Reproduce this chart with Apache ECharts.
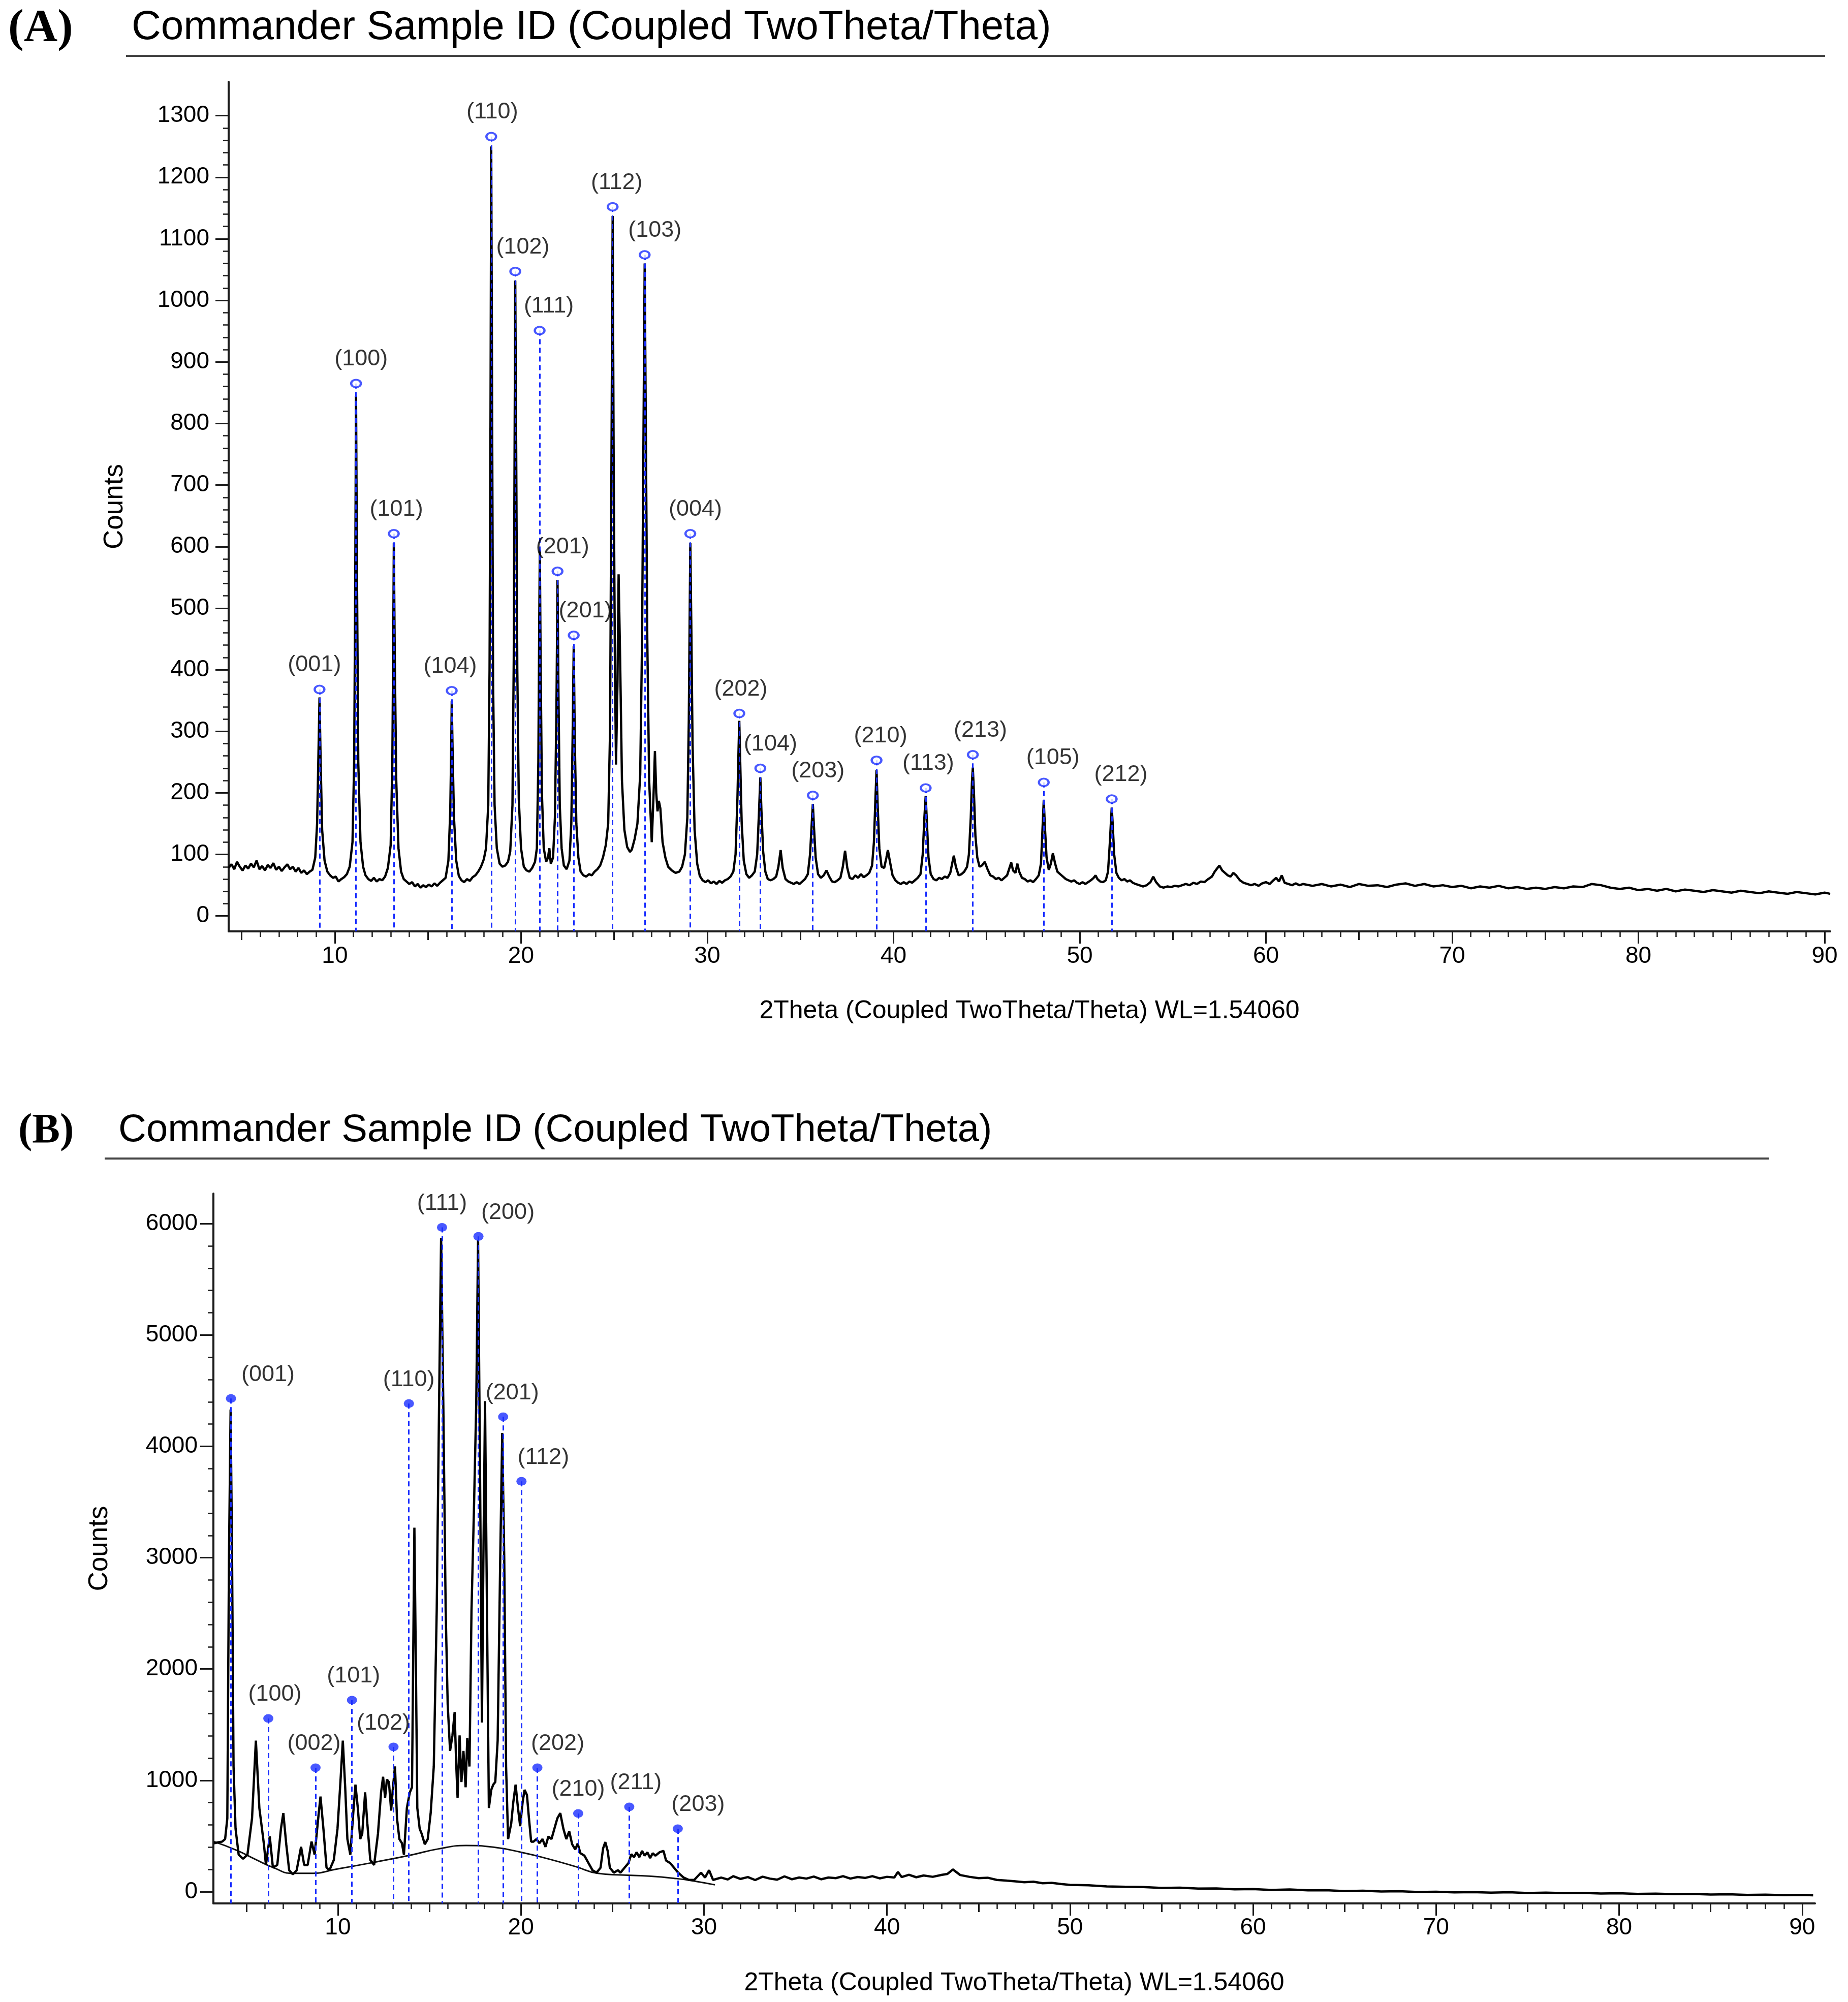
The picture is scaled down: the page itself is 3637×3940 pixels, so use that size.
<!DOCTYPE html>
<html>
<head>
<meta charset="utf-8">
<script src="https://cdn.jsdelivr.net/npm/echarts@6/dist/echarts.min.js"></script>
<style>
html,body{margin:0;padding:0;background:#ffffff;}
#chart{width:3637px;height:3940px;}
</style>
</head>
<body>
<div id="chart"></div>
<script>
// ---------------- DATA ----------------
const xTickLabels = [10, 20, 30, 40, 50, 60, 70, 80, 90];
const yTickLabelsA = [0, 100, 200, 300, 400, 500, 600, 700, 800, 900, 1000, 1100, 1200, 1300];
const yTickLabelsB = [0, 1000, 2000, 3000, 4000, 5000, 6000];

const xTitle = '2Theta (Coupled TwoTheta/Theta) WL=1.54060';
const panelTitle = 'Commander Sample ID (Coupled TwoTheta/Theta)';

// Panel A pattern [2theta, counts]
const patternA = [
[4.3,78],[4.45,84],[4.6,76],[4.75,88],[4.9,80],[5.05,74],[5.2,82],[5.35,77],[5.5,85],[5.65,79],[5.8,90],[5.95,76],[6.1,81],[6.25,74],[6.4,83],[6.55,78],[6.7,86],[6.85,75],[7.0,80],[7.15,73],[7.3,79],[7.45,84],[7.6,76],[7.75,80],[7.9,72],[8.05,78],[8.2,70],[8.35,74],[8.5,68],[8.65,72],
[8.8,75],[8.95,95],[9.05,150],[9.12,260],[9.18,355],[9.24,250],[9.32,140],[9.45,90],[9.6,72],
[9.75,66],[9.9,62],[10.05,64],[10.2,56],[10.35,60],[10.5,63],[10.65,68],
[10.8,80],[10.95,120],[11.04,250],[11.1,550],[11.14,845],[11.19,560],[11.26,250],[11.38,120],[11.52,80],
[11.65,66],[11.8,60],[11.95,57],[12.1,62],[12.25,56],[12.4,60],[12.55,58],[12.7,64],
[12.85,78],[13.0,115],[13.09,250],[13.14,450],[13.17,606],[13.22,420],[13.3,220],[13.42,110],[13.56,72],
[13.7,60],[13.85,56],[14.0,52],[14.15,55],[14.3,48],[14.45,52],[14.6,46],[14.75,50],[14.9,47],[15.05,51],[15.2,48],[15.35,53],[15.5,49],[15.65,54],[15.8,58],
[15.95,62],[16.1,90],[16.2,170],[16.25,270],[16.28,349],[16.33,260],[16.4,160],[16.52,90],[16.66,65],
[16.8,58],[16.95,55],[17.1,60],[17.25,57],[17.4,63],[17.55,66],[17.7,72],[17.85,80],[18.0,92],
[18.12,110],[18.24,180],[18.31,400],[18.36,800],[18.4,1250],[18.45,800],[18.5,380],[18.58,180],[18.7,110],[18.85,85],
[19.0,80],[19.15,82],[19.3,88],
[19.42,105],[19.54,180],[19.61,420],[19.66,800],[19.69,1032],[19.74,760],[19.8,400],[19.88,190],[20.0,110],[20.15,80],
[20.3,74],[20.45,72],[20.6,78],[20.75,88],
[20.85,110],[20.93,250],[20.98,480],[21.01,595],[21.05,420],[21.12,200],[21.22,110],[21.35,88],[21.45,95],[21.52,110],[21.6,85],
[21.72,95],[21.82,160],[21.9,330],[21.96,546],[22.01,360],[22.08,180],[22.18,110],[22.3,82],[22.45,76],
[22.6,90],[22.7,150],[22.77,290],[22.83,438],[22.89,280],[22.97,150],[23.08,95],[23.2,72],
[23.35,66],[23.5,64],[23.65,68],[23.8,66],[23.95,72],[24.1,76],[24.25,82],[24.4,95],[24.55,115],
[24.68,150],[24.78,300],[24.85,700],[24.92,1137],[24.98,700],[25.04,420],[25.1,246],[25.18,380],[25.24,555],[25.32,420],[25.42,220],[25.55,140],[25.7,112],[25.85,104],[25.95,108],[26.1,125],
[26.25,150],[26.4,230],[26.5,450],[26.58,800],[26.64,1060],[26.7,800],[26.78,450],[26.88,220],[27.02,120],[27.12,200],[27.19,268],[27.26,200],[27.33,170],[27.4,187],[27.48,175],[27.6,120],[27.75,95],[27.9,80],[28.1,74],[28.3,70],[28.5,72],[28.65,80],
[28.8,100],[28.93,160],[29.01,320],[29.06,500],[29.09,606],[29.14,480],[29.21,280],[29.32,140],[29.46,85],[29.6,65],
[29.75,58],[29.9,55],[30.05,58],[30.2,53],[30.35,56],[30.5,52],[30.65,57],[30.8,54],[30.95,58],[31.1,60],[31.25,64],
[31.4,72],[31.52,100],[31.62,190],[31.68,270],[31.72,317],[31.77,250],[31.85,150],[31.96,90],[32.1,68],[32.25,62],[32.4,66],
[32.55,72],[32.68,100],[32.78,170],[32.85,225],[32.91,170],[33.0,105],[33.12,72],[33.25,60],[33.4,58],[33.55,60],[33.7,64],
[33.82,80],[33.94,107],[34.05,78],[34.2,60],[34.35,56],[34.5,54],[34.65,52],[34.8,55],[34.95,52],[35.1,56],[35.25,60],
[35.4,68],[35.52,100],[35.61,150],[35.67,182],[35.73,145],[35.82,95],[35.95,68],[36.1,62],[36.25,66],[36.4,74],[36.55,64],[36.7,56],[36.85,55],[37.0,58],[37.15,62],
[37.28,80],[37.4,106],[37.52,78],[37.65,62],[37.8,60],[37.95,66],[38.1,62],[38.25,68],[38.4,63],[38.55,66],[38.7,70],
[38.85,82],[38.95,120],[39.03,190],[39.09,237],[39.15,180],[39.24,110],[39.36,80],[39.5,78],[39.62,95],[39.7,107],[39.8,90],[39.95,66],[40.1,58],[40.25,54],[40.4,52],[40.55,55],[40.7,52],[40.85,56],[41.0,54],[41.15,58],[41.3,62],
[41.45,68],[41.57,100],[41.66,160],[41.73,195],[41.79,155],[41.88,95],[42.0,68],[42.15,60],[42.3,58],[42.45,62],[42.6,60],[42.75,64],[42.9,62],[43.05,70],
[43.15,85],[43.24,98],[43.35,80],[43.5,66],[43.65,68],[43.8,72],[43.95,80],
[44.05,100],[44.15,160],[44.21,215],[44.26,241],[44.32,200],[44.4,130],[44.5,95],[44.62,80],[44.75,82],[44.9,88],[45.05,76],[45.2,66],[45.35,64],[45.5,60],[45.65,62],[45.8,58],[45.95,62],[46.1,66],[46.25,80],[46.32,87],[46.42,74],[46.55,70],[46.65,85],[46.75,72],[46.9,62],[47.05,60],[47.2,56],[47.35,58],[47.5,55],[47.65,60],[47.8,66],
[47.92,85],[48.0,140],[48.07,188],[48.13,145],[48.22,95],[48.34,75],[48.45,85],[48.56,102],[48.68,85],[48.8,72],[48.95,68],[49.1,64],[49.25,60],[49.4,58],[49.55,56],[49.7,58],[49.85,54],[50.0,52],[50.15,55],[50.3,52],[50.45,55],[50.6,58],[50.75,62],[50.85,66],[50.95,60],[51.1,56],[51.25,55],[51.4,58],
[51.52,72],[51.62,120],[51.68,155],[51.72,176],[51.77,150],[51.85,100],[51.97,70],[52.1,62],[52.25,58],[52.4,60],[52.55,56],[52.7,58],[52.85,54],[53.0,52],[53.2,50],[53.4,48],[53.6,50],[53.8,55],[53.95,64],[54.1,55],[54.3,48],[54.5,46],[54.7,48],[54.9,47],[55.1,49],[55.3,48],[55.5,50],[55.7,52],[55.9,50],[56.1,54],[56.3,52],[56.5,56],[56.7,55],[56.9,60],[57.1,64],[57.25,72],[57.4,78],[57.5,82],[57.65,74],[57.8,70],[57.95,66],[58.1,64],[58.25,70],[58.4,66],[58.6,58],[58.8,54],[59.0,52],[59.2,50],[59.4,52],[59.6,49],[59.8,53],[60.0,55],[60.2,52],[60.4,58],[60.55,62],[60.7,56],[60.85,66],[61.0,54],[61.2,52],[61.4,50],[61.6,53],[61.8,50],[62.0,52],
[62.5,49],[63.0,52],[63.5,48],[64.0,51],[64.5,47],[65.0,52],[65.5,49],[66.0,50],[66.5,47],[67.0,51],[67.5,53],[68.0,49],[68.5,52],[69.0,48],[69.5,50],[70.0,47],[70.5,49],[71.0,45],[71.5,48],[72.0,46],[72.5,49],[73.0,45],[73.5,47],[74.0,44],[74.5,46],[75.0,44],[75.5,47],[76.0,45],[76.5,48],[77.0,47],[77.5,52],[78.0,50],[78.5,46],[79.0,44],[79.5,46],[80.0,42],[80.5,44],[81.0,41],[81.5,44],[82.0,40],[82.5,43],[83.0,41],[83.5,39],[84.0,42],[84.5,40],[85.0,38],[85.5,41],[86.0,39],[86.5,37],[87.0,40],[87.5,38],[88.0,36],[88.5,39],[89.0,37],[89.5,35],[90.0,38],[90.3,36]
];

// Panel A indexed peaks
const peakLabelsA = ['(001)','(100)','(101)','(104)','(110)','(102)','(111)','(201)','(201)','(112)','(103)','(004)','(202)','(104)','(203)','(210)','(113)','(213)','(105)','(212)'];
const peakPosA    = [9.18, 11.14, 13.17, 16.28, 18.40, 19.69, 21.0, 21.96, 22.83, 24.92, 26.64, 29.09, 31.72, 32.85, 35.67, 39.09, 41.73, 44.26, 48.07, 51.72];
const peakMarkA   = [368, 865, 621, 366, 1266, 1047, 951, 560, 456, 1152, 1074, 621, 329, 240, 196, 253, 208, 262, 217, 190];

// Panel B pattern [2theta, counts]
const patternB = [
[3.24,436],[3.5,445],[3.68,450],[3.84,473],[3.96,659],[4.05,2986],[4.14,4330],[4.22,2986],[4.3,1125],[4.41,566],[4.58,333],[4.82,296],[5.06,333],[5.31,659],[5.52,1357],[5.71,752],[5.96,426],[6.07,240],[6.28,496],[6.45,217],[6.69,240],[6.89,566],[7.02,706],[7.18,426],[7.34,193],[7.54,156],[7.75,193],[7.99,403],[8.16,240],[8.35,240],[8.56,450],[8.73,333],[8.94,682],[9.05,855],[9.21,566],[9.38,217],[9.54,193],[9.78,286],[9.98,566],[10.14,985],[10.27,1357],[10.4,938],[10.52,473],[10.68,333],[10.84,706],[10.96,962],[11.09,752],[11.22,473],[11.33,520],[11.49,892],[11.61,613],[11.77,286],[11.98,240],[12.19,520],[12.36,892],[12.47,1032],[12.58,845],[12.68,1008],[12.79,985],[12.91,729],[13.01,938],[13.12,1125],[13.23,659],[13.36,473],[13.5,436],[13.61,333],[13.77,752],[13.93,892],[14.05,938],[14.18,3270],[14.26,2056],[14.34,752],[14.47,566],[14.58,520],[14.75,426],[14.91,473],[15.07,706],[15.24,1125],[15.4,2521],[15.53,4383],[15.64,5870],[15.76,4383],[15.89,2521],[16.0,1683],[16.13,1265],[16.26,1404],[16.38,1613],[16.46,1171],[16.54,845],[16.65,1404],[16.75,985],[16.86,1265],[16.98,938],[17.07,1381],[17.19,1125],[17.3,2521],[17.43,3405],[17.56,4383],[17.66,5850],[17.76,3918],[17.87,1520],[17.95,2986],[18.04,4406],[18.12,2986],[18.25,752],[18.38,915],[18.49,962],[18.6,985],[18.73,1357],[18.87,2986],[18.98,4120],[19.09,2986],[19.19,1125],[19.3,473],[19.47,613],[19.58,799],[19.71,962],[19.84,752],[19.96,589],[20.09,799],[20.2,915],[20.33,869],[20.44,659],[20.56,450],[20.69,450],[20.85,473],[21.01,436],[21.18,473],[21.34,403],[21.5,496],[21.67,473],[21.83,566],[21.99,659],[22.15,706],[22.32,566],[22.48,473],[22.64,543],[22.8,426],[22.97,380],[23.1,433],[23.25,346],[23.47,324],[23.69,258],[23.91,193],[24.13,171],[24.35,215],[24.49,389],[24.61,446],[24.74,367],[24.86,215],[25.08,171],[25.3,193],[25.44,171],[25.66,215],[25.88,258],[26.03,337],[26.18,311],[26.32,354],[26.47,311],[26.62,367],[26.76,324],[26.91,354],[27.06,302],[27.2,346],[27.35,324],[27.57,354],[27.79,367],[27.93,280],[28.15,258],[28.37,215],[28.59,171],[28.89,127],[29.18,106],[29.47,106],[29.84,171],[30.06,127],[30.28,193],[30.5,106],
[30.94,127],[31.3,110],[31.6,140],[32.0,115],[32.4,132],[32.8,105],[33.2,135],[33.6,118],[34.0,108],[34.4,138],[34.8,112],[35.2,128],[35.6,118],[36.0,136],[36.4,112],[36.8,128],[37.2,122],[37.6,140],[38.0,118],[38.4,132],[38.8,124],[39.2,140],[39.6,120],[40.0,134],[40.4,128],[40.6,178],[40.8,132],[41.2,152],[41.6,130],[42.0,146],[42.5,134],[43.0,152],[43.3,160],[43.6,200],[44.0,150],[44.5,134],[45.0,122],[45.5,126],[46.0,106],[46.5,100],[47.0,94],[47.5,86],[48.0,90],[48.5,76],[49.0,80],[49.5,70],[50.0,62],[51.0,58],[52.0,48],[53.0,44],[54.0,42],[55.0,34],[56.0,36],[57.0,28],[58.0,30],[59.0,22],[60.0,24],[61.0,16],[62.0,20],[63.0,12],[64.0,14],[65.0,6],[66.0,9],[67.0,2],[68.0,5],[69.0,-2],[70.0,0],[71.0,-6],[72.0,-3],[73.0,-8],[74.0,-5],[75.0,-11],[76.0,-8],[77.0,-13],[78.0,-10],[79.0,-16],[80.0,-14],[81.0,-19],[82.0,-17],[83.0,-22],[84.0,-20],[85.0,-25],[86.0,-23],[87.0,-28],[88.0,-26],[89.0,-31],[90.0,-29],[90.6,-32]
];

// Panel B fitted background curve
const backgroundB = [[3.24,450],[4.5,370],[5.5,290],[6.5,215],[7.5,165],[8.5,165],[10,205],[12,265],[14,330],[15.5,385],[17,415],[18.5,400],[20,355],[21.5,295],[23,225],[24.2,165],[25.5,150],[27,140],[28.5,118],[29.5,95],[30.6,62]];

// Panel B indexed peaks
const peakLabelsB = ['(001)','(100)','(002)','(101)','(102)','(110)','(111)','(200)','(201)','(112)','(202)','(210)','(211)','(203)'];
const peakPosB    = [4.16, 6.2, 8.78, 10.77, 13.04, 13.88, 15.69, 17.68, 19.03, 20.03, 20.9, 23.13, 25.92, 28.57];
const peakMarkB   = [4430, 1556, 1113, 1720, 1300, 4384, 5967, 5885, 4266, 3686, 1113, 703, 762, 566];

// ---------------- LAYOUT / STYLE ----------------
const labelShiftA = [-10, 10, 5, -3, 2, 15, 18, 10, 23, 8, 20, 10, 3, 20, 10, 8, 5, 15, 18, 18];
const labelShiftB = [73, 13, -3, 3, -20, 0, 0, 58, 18, 43, 40, 0, 13, 40];

const FONT = '"Liberation Sans", Arial, Helvetica, sans-serif';
const BLUE = '#1a2eff';
const INK = '#000000';
const AXIS = '#1a1a1a';
const A_MIN_X = 4.3, A_MAX_X = 90.3, A_MIN_Y = -25, A_MAX_Y = 1355;
const B_MIN_X = 3.2, B_MAX_X = 90.7, B_MIN_Y = -105, B_MAX_Y = 6270;

const midTicks = [];
const minorTicks = [];
for (let v = 5; v <= 90; v += 1) {
  if (v % 10 === 0) continue;
  if (v % 5 === 0) midTicks.push(v); else minorTicks.push(v);
}
function minorBetween(major, step) {
  const out = [];
  for (let i = 0; i < major.length - 1; i++) {
    for (let v = major[i] + step; v < major[i + 1] - 1e-9; v += step) out.push(Math.round(v));
  }
  return out;
}
const yMinorA = minorBetween(yTickLabelsA, 20);
const yMinorB = minorBetween(yTickLabelsB, 200);
const plain = function (v) { return String(v); };

function xAxesFor(grid, min, max, nameGap, labelMargin) {
  const base = {type: 'value', gridIndex: grid, position: 'bottom', min: min, max: max,
    splitLine: {show: false}, minorTick: {show: false}, minorSplitLine: {show: false}};
  return [
    Object.assign({}, base, {
      name: xTitle, nameLocation: 'middle', nameGap: nameGap,
      nameTextStyle: {fontSize: 50, fontFamily: FONT, color: INK},
      axisLine: {show: true, onZero: false, lineStyle: {color: AXIS, width: 4}},
      axisTick: {show: true, customValues: xTickLabels, length: 24, lineStyle: {color: AXIS, width: 3}},
      axisLabel: {show: true, customValues: xTickLabels, formatter: plain, margin: labelMargin, fontSize: 46, fontFamily: FONT, color: INK}
    }),
    Object.assign({}, base, {
      axisLine: {show: false, onZero: false},
      axisTick: {show: true, customValues: midTicks, length: 17, lineStyle: {color: AXIS, width: 3}},
      axisLabel: {show: false}
    }),
    Object.assign({}, base, {
      axisLine: {show: false, onZero: false},
      axisTick: {show: true, customValues: minorTicks, length: 11, lineStyle: {color: AXIS, width: 2.5}},
      axisLabel: {show: false}
    })
  ];
}
function yAxesFor(grid, min, max, major, minor, labelMargin) {
  const base = {type: 'value', gridIndex: grid, position: 'left', min: min, max: max,
    splitLine: {show: false}, minorTick: {show: false}, minorSplitLine: {show: false}};
  return [
    Object.assign({}, base, {
      name: 'Counts', nameLocation: 'middle', nameRotate: 90, nameGap: 197,
      nameTextStyle: {fontSize: 53, fontFamily: FONT, color: INK},
      axisLine: {show: true, onZero: false, lineStyle: {color: AXIS, width: 4}},
      axisTick: {show: true, customValues: major, length: 26, lineStyle: {color: AXIS, width: 3}},
      axisLabel: {show: true, customValues: major, formatter: plain, margin: labelMargin, fontSize: 46, fontFamily: FONT, color: INK}
    }),
    Object.assign({}, base, {
      axisLine: {show: false, onZero: false},
      axisTick: {show: true, customValues: minor, length: 11, lineStyle: {color: AXIS, width: 2.5}},
      axisLabel: {show: false}
    })
  ];
}

function peakSeries(xi, yi, labels, pos, marks, shifts, yMin, filled) {
  return {
    type: 'scatter', xAxisIndex: xi, yAxisIndex: yi, z: 10,
    symbol: 'circle', symbolSize: filled ? [20, 17] : [19, 15],
    itemStyle: filled ? {color: BLUE} : {color: '#ffffff', borderColor: BLUE, borderWidth: 4},
    label: {show: true, position: 'top', distance: 16, fontSize: 45, fontFamily: FONT, color: INK,
      formatter: function (p) { return p.name; }},
    emphasis: {disabled: true},
    data: pos.map(function (x, i) {
      return {name: labels[i], value: [x, marks[i]], label: {offset: [shifts[i], 0]}};
    }),
    markLine: {
      silent: true, symbol: ['none', 'none'], animation: false,
      label: {show: false},
      lineStyle: {color: BLUE, width: 3, type: [10, 7], opacity: 1},
      emphasis: {disabled: true},
      data: pos.map(function (x, i) { return [{coord: [x, marks[i]]}, {coord: [x, yMin]}]; })
    }
  };
}

const option = {
  backgroundColor: '#ffffff',
  animation: false,
  grid: [
    {left: 450, top: 161, width: 3152, height: 1672, containLabel: false},
    {left: 420, top: 2349, width: 3152, height: 1397, containLabel: false}
  ],
  xAxis: [].concat(
    xAxesFor(0, A_MIN_X, A_MAX_X, 132, 26),
    xAxesFor(1, B_MIN_X, B_MAX_X, 132, 25)
  ),
  yAxis: [].concat(
    yAxesFor(0, A_MIN_Y, A_MAX_Y, yTickLabelsA, yMinorA, 38),
    yAxesFor(1, B_MIN_Y, B_MAX_Y, yTickLabelsB, yMinorB, 31)
  ),
  graphic: [
    {type: 'text', x: 16, y: 57, style: {text: '(A)', font: 'bold 92px "Liberation Serif", "Times New Roman", serif', fill: INK, verticalAlign: 'middle', align: 'left'}},
    {type: 'text', x: 259, y: 55, style: {text: panelTitle, font: '80px ' + FONT, fill: INK, verticalAlign: 'middle', align: 'left'}},
    {type: 'line', shape: {x1: 248, y1: 110, x2: 3592, y2: 110}, style: {stroke: '#444444', lineWidth: 4}},
    {type: 'text', x: 36, y: 2227, style: {text: '(B)', font: 'bold 82px "Liberation Serif", "Times New Roman", serif', fill: INK, verticalAlign: 'middle', align: 'left'}},
    {type: 'text', x: 233, y: 2225, style: {text: panelTitle, font: '76px ' + FONT, fill: INK, verticalAlign: 'middle', align: 'left'}},
    {type: 'line', shape: {x1: 206, y1: 2280, x2: 3481, y2: 2280}, style: {stroke: '#444444', lineWidth: 4}}
  ],
  series: [
    {type: 'line', xAxisIndex: 0, yAxisIndex: 0, data: patternA, showSymbol: false, symbol: 'none',
      lineStyle: {color: '#000000', width: 4.5}, sampling: null, z: 2, emphasis: {disabled: true}},
    peakSeries(0, 0, peakLabelsA, peakPosA, peakMarkA, labelShiftA, A_MIN_Y, false),
    {type: 'line', xAxisIndex: 3, yAxisIndex: 2, data: backgroundB, showSymbol: false, symbol: 'none', smooth: 0.5,
      lineStyle: {color: '#111111', width: 3}, z: 1, emphasis: {disabled: true}},
    {type: 'line', xAxisIndex: 3, yAxisIndex: 2, data: patternB, showSymbol: false, symbol: 'none',
      lineStyle: {color: '#000000', width: 4.5}, z: 2, emphasis: {disabled: true}},
    peakSeries(3, 2, peakLabelsB, peakPosB, peakMarkB, labelShiftB, B_MIN_Y, true)
  ]
};

const chart = echarts.init(document.getElementById('chart'), null, {renderer: 'canvas', width: 3637, height: 3940, devicePixelRatio: 1});
chart.setOption(option);
</script>
</body>
</html>
